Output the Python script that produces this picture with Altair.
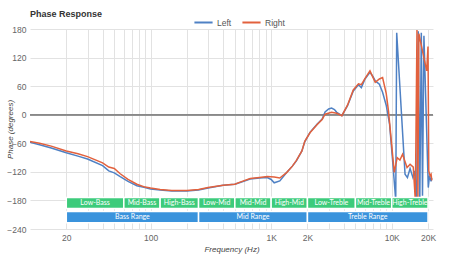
import altair as alt
import pandas as pd

# ---- data ----
left_freq = [10, 12, 15, 20, 25, 30, 40, 45, 50, 56, 65, 77, 90, 100, 120, 150, 200, 250, 300, 400,
             500, 560, 670, 800, 930, 1000, 1060, 1180, 1350, 1500, 1620, 1800, 1900, 2100, 2400,
             2650, 2800, 3000, 3170, 3350, 3500, 3860, 4300, 4800, 5300, 5600, 6000, 6600, 7000,
             7300, 7900, 8400, 9000, 9600, 10200, 10800, 11000, 12900, 13500, 14200, 15000, 15500,
             16100, 16600, 17100, 17600, 18000, 18500, 20100, 20600, 21200, 21500]
left_phase = [-58, -63, -70, -80, -87, -93, -107, -118, -122, -130, -140, -149, -153, -156, -158, -160,
              -160, -158, -154, -148, -146, -142, -135, -133, -132, -136, -143, -139, -121, -108, -97,
              -76, -57, -37, -20, -9, 6, 12, 14, 11, 5, -2, 19, 50, 63, 57, 75, 89, 80, 71, 64, 47,
              20, -20, -100, -180, 172, -125, -132, -113, -132, -118, -180, 175, -180, 172, -170,
              166, -153, -128, -140, -133]

right_freq = [10, 12, 15, 20, 25, 30, 40, 45, 50, 56, 65, 77, 90, 100, 120, 150, 200, 250, 300, 400,
              500, 560, 670, 800, 930, 1060, 1180, 1350, 1500, 1620, 1800, 1900, 2100, 2400, 2650,
              2800, 3170, 3500, 3860, 4300, 4800, 5300, 5600, 6000, 6600, 7300, 7900, 8400, 9000,
              9400, 10500, 11100, 11700, 12300, 13400, 14200, 15100, 15700, 16200, 16500, 16800,
              19500, 20000, 20300, 20800, 21200, 21500]
right_phase = [-56, -60, -66, -76, -82, -88, -101, -110, -113, -124, -136, -146, -152, -154, -157,
               -159, -159, -157, -153, -148, -146, -141, -134, -132, -130, -131, -133, -121, -108,
               -96, -76, -56, -38, -21, -10, 1, 5, 3, -2, 20, 52, 65, 63, 76, 92, 68, 75, 78, 45, 8,
               -121, -90, -95, -83, -111, -104, -110, -180, 178, -180, 170, 92, 143, -118, -128,
               -125, -138]

band_names = ["Low-Bass", "Mid-Bass", "High-Bass", "Low-Mid", "Mid-Mid", "High-Mid",
              "Low-Treble", "Mid-Treble", "High-Treble"]
band_lo = [20, 60, 120, 250, 500, 1000, 2000, 5000, 10000]
band_hi = [60, 120, 250, 500, 1000, 2000, 5000, 10000, 20000]

range_names = ["Bass Range", "Mid Range", "Treble Range"]
range_lo = [20, 250, 2000]
range_hi = [250, 2000, 20000]

x_values = [20, 30, 40, 50, 60, 70, 80, 90, 100, 200, 300, 400, 500, 600, 700, 800, 900,
            1000, 2000, 3000, 4000, 5000, 6000, 7000, 8000, 9000, 10000, 20000]
y_values = [-240, -180, -120, -60, 0, 60, 120, 180]

# ---- tables ----
lines_df = pd.concat([
    pd.DataFrame({"freq": left_freq, "phase": left_phase, "series": "Left"}),
    pd.DataFrame({"freq": right_freq, "phase": right_phase, "series": "Right"}),
])
bands_df = pd.DataFrame({"name": band_names, "lo": band_lo, "hi": band_hi})
ranges_df = pd.DataFrame({"name": range_names, "lo": range_lo, "hi": range_hi})

FONT = "Liberation Sans"
xscale = alt.Scale(type="log", domain=[10, 22000], nice=False)
yscale = alt.Scale(domain=[-240, 180], nice=False, zero=False)
label_expr = ("datum.value == 20 ? '20' : datum.value == 100 ? '100' : datum.value == 1000 ? '1K' : "
              "datum.value == 2000 ? '2K' : datum.value == 10000 ? '10K' : datum.value == 20000 ? '20K' : ''")
xaxis = alt.Axis(values=x_values, labelExpr=label_expr, title="Frequency (Hz)", grid=True,
                 labelOverlap=False, labelFlush=False)
yaxis = alt.Axis(values=y_values, title="Phase (degrees)", grid=True, labelOverlap=False,
                 labelFlush=False, titleX=-20, titleY=100, titleAngle=270, titleAlign="center",
                 titleBaseline="middle")


def ydatum(v):
    return alt.YDatum(v, type="quantitative", scale=yscale, axis=yaxis)


def y2datum(v):
    return alt.Y2Datum(v)


lines = alt.Chart(lines_df).mark_line(strokeWidth=1.5, clip=True).encode(
    x=alt.X("freq:Q", scale=xscale, axis=xaxis),
    y=alt.Y("phase:Q", scale=yscale, axis=yaxis),
    color=alt.Color("series:N",
                    scale=alt.Scale(domain=["Left", "Right"], range=["#4f81c4", "#e2613d"]),
                    legend=alt.Legend(title=None, orient="none", direction="horizontal",
                                      legendX=163, legendY=-17, symbolType="stroke",
                                      symbolStrokeWidth=2, symbolSize=330, labelFontSize=8.5,
                                      labelColor="#555", labelFont=FONT, columnPadding=6,
                                      labelOffset=3)),
    order=alt.Order("freq:Q"),
)

zero = alt.Chart(bands_df).mark_rule(color="#8a8a8a", strokeWidth=1).encode(y=ydatum(0))

band_rects = alt.Chart(bands_df).mark_rect(color="#3dcb7b", stroke="white", strokeWidth=1.5).encode(
    x=alt.X("lo:Q", scale=xscale, axis=xaxis), x2="hi:Q",
    y=ydatum(-174), y2=y2datum(-197),
)
band_text = alt.Chart(bands_df).transform_calculate(
    mid="sqrt(datum.lo * datum.hi)"
).mark_text(color="white", fontSize=7, font="Lato").encode(
    x=alt.X("mid:Q", scale=xscale, axis=xaxis), y=ydatum(-185.5), text="name:N",
)
range_rects = alt.Chart(ranges_df).mark_rect(color="#3a93dc", stroke="white", strokeWidth=1.5).encode(
    x=alt.X("lo:Q", scale=xscale, axis=xaxis), x2="hi:Q",
    y=ydatum(-203.5), y2=y2datum(-227),
)
range_text = alt.Chart(ranges_df).transform_calculate(
    mid="sqrt(datum.lo * datum.hi)"
).mark_text(color="white", fontSize=7, font="Lato").encode(
    x=alt.X("mid:Q", scale=xscale, axis=xaxis), y=ydatum(-215), text="name:N",
)

chart = alt.layer(zero, lines, band_rects, band_text, range_rects, range_text).properties(
    width=403, height=200,
    autosize=alt.AutoSizeParams(type="none"),
    padding={"left": 30, "top": 29, "right": 17, "bottom": 31},
    title=alt.TitleParams("Phase Response", anchor="start", frame="group", fontSize=9,
                          fontWeight="bold", font=FONT, color="#333", offset=10, dy=17),
).configure_view(stroke=None).configure_axis(
    labelFont=FONT, labelFontSize=8.5, labelColor="#666", titleFont=FONT, titleFontSize=8,
    titleColor="#444", titleFontStyle="italic", titleFontWeight="normal", gridColor="#e2e2e2",
    domain=False, ticks=False,
).configure_axisX(labelPadding=4, titlePadding=4).configure_axisY(labelPadding=4)

chart.save("out.html", embed_options={"renderer": "svg", "actions": False})
